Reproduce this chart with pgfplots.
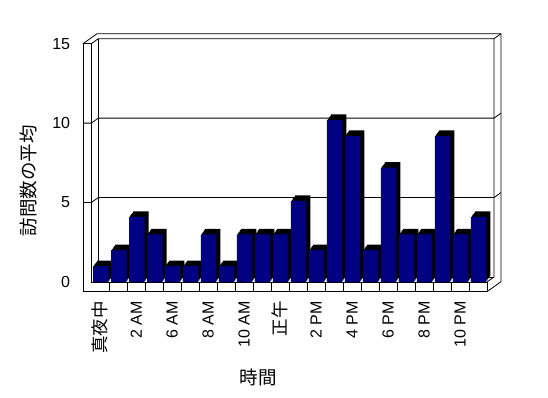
\documentclass[border=0pt]{standalone}
\usepackage{fontspec}
\setmainfont{Liberation Sans}
\newfontfamily\cjk{Noto Sans CJK JP}
\usepackage{pgfplots}
\pgfplotsset{compat=1.18}
\definecolor{barblue}{RGB}{0,0,128}
\tikzset{
  bar3d/.style={fill=barblue, draw=none,
    preaction={fill=black, draw=none, transform canvas={shift={(4pt,5.5pt)}}},
    preaction={fill=black, draw=none, transform canvas={shift={(3pt,4.1pt)}}},
    preaction={fill=black, draw=none, transform canvas={shift={(2pt,2.75pt)}}},
    preaction={fill=black, draw=none, transform canvas={shift={(1pt,1.4pt)}}}}
}
\begin{document}
\begin{tikzpicture}[x=1pt,y=1pt]
\useasboundingbox (0,0) rectangle (548,398);
\begin{scope}[line width=0.8pt, line join=miter]
  % left wall front face
  \draw (83,106.3) -- (83,354.3) -- (91.3,354.3) -- (91.3,116);
  % floor front face
  \draw (83,106.3) -- (487,106.3) -- (487,116) -- (91.3,116);
  \foreach \k in {1,...,21} \draw (91.3+17.986*\k,106.3) -- (91.3+17.986*\k,116);
  % top and right edges
  \draw (83,354.3) -- (97,364.3) -- (501,364.3) -- (501,116.3) -- (487,106.3);
  \draw (91.3,354.3) -- (98.3,359.3) -- (494,359.3) -- (501,364.3);
  \draw (98.3,359.3) -- (98.3,121);
  \draw (494,359.3) -- (494,121) -- (487,116);
  \draw (98.3,121) -- (494,121);
  % gridlines
  \foreach \v in {5,10} {
    \draw (83,116+15.887*\v) -- (91.3,116+15.887*\v) -- (98.3,121+15.887*\v) -- (494,121+15.887*\v) -- (501,126+15.887*\v);
  }
\end{scope}
\begin{axis}[
  at={(91.3pt,116pt)}, anchor=south west,
  scale only axis, width=395.7pt, height=238.3pt,
  xmin=-0.5, xmax=21.5, ymin=0, ymax=15,
  axis line style={draw=none},
  major tick length=0pt,
  ytick={0,5,10,15},
  xtick={0,2,...,20},
  xticklabels={{\fontsize{17.5}{19}\selectfont\cjk 真夜中},2 AM,6 AM,8 AM,10 AM,{\fontsize{17.5}{19}\selectfont\cjk 正午},2 PM,4 PM,6 PM,8 PM,10 PM},
  /pgf/number format/assume math mode=true,
  tick label style={font=\fontsize{16}{18}\selectfont},
  yticklabel style={inner sep=0pt},
  yticklabel shift=21pt,
  xticklabel style={rotate=90, anchor=east, inner sep=0pt},
  xticklabel shift=19pt,
  every axis y label/.style={at={(axis description cs:-0.159,0.425)}, rotate=90, anchor=center},
  every axis x label/.style={at={(axis description cs:0.4213,-0.399)}, anchor=center},
  ylabel={\fontsize{18.5}{20}\selectfont\cjk 訪問数の平均},
  xlabel={\fontsize{18.5}{20}\selectfont\cjk 時間},
  clip=false,
]
\addplot[ybar, bar width=15.5pt, bar shift=0.5pt, bar3d] coordinates {
  (0,1) (1,2) (2,4.1) (3,3) (4,1) (5,1) (6,3) (7,1) (8,3) (9,3) (10,3)
  (11,5.1) (12,2) (13,10.2) (14,9.2) (15,2) (16,7.2) (17,3) (18,3)
  (19,9.2) (20,3) (21,4.1)
};
\end{axis}
\end{tikzpicture}
\end{document}
